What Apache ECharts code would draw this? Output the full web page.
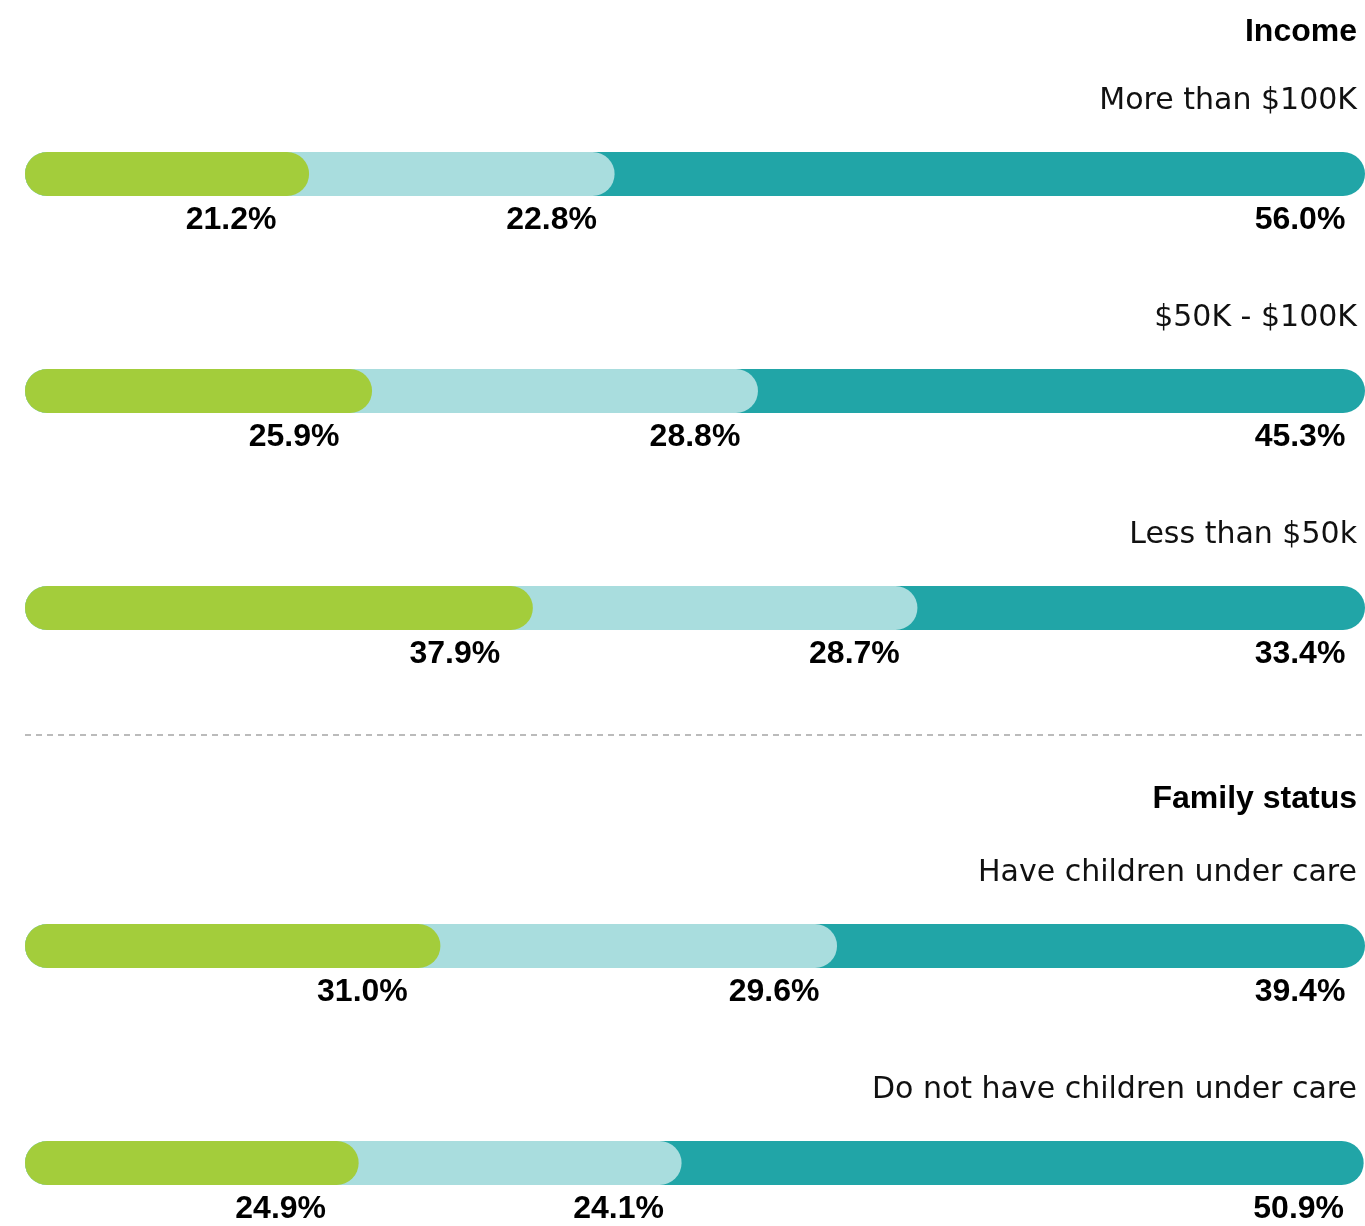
<!DOCTYPE html>
<html>
<head>
    <meta charset="utf-8"/>
    <title></title>
    <script src="https://cdn.jsdelivr.net/npm/echarts@6/dist/echarts.min.js"></script>
    <style>
        html, body {margin: 0; padding: 0; background: #fff;}
        #main {width: 1365px; height: 1226px;}
    </style>
</head>
<body>
<div id="main"></div>
<script type="text/javascript">
    /* 数据 */
    var incomeRows = ['More than $100K', '$50K - $100K', 'Less than $50k'];
    var incomeGreen = [21.2, 25.9, 37.9];
    var incomeLight = [22.8, 28.8, 28.7];
    var incomeTeal = [56.0, 45.3, 33.4];

    var familyRows = ['Have children under care', 'Do not have children under care'];
    var familyGreen = [31.0, 24.9];
    var familyLight = [29.6, 24.1];
    var familyTeal = [39.4, 50.9];

    var groupTitles = ['Income', 'Family status'];

    var colors = {green: '#a3cd3b', light: '#a9ddde', teal: '#21a5a7'};

    var chart = echarts.init(document.getElementById('main'));

    /* 每段从0画到累计值，后画的盖在前面，圆角叠出效果 */
    function makeSeries(gi, rows, green, light, teal) {
        var cumLight = green.map(function (v, i) { return +(v + light[i]).toFixed(1); });
        var cumTeal = green.map(function (v, i) { return +(v + light[i] + teal[i]).toFixed(1); });
        var parts = [
            {name: 'teal', color: colors.teal, data: cumTeal, raw: teal, dx: -65},
            {name: 'light', color: colors.light, data: cumLight, raw: light, dx: -63},
            {name: 'green', color: colors.green, data: green, raw: green, dx: -78}
        ];
        var list = parts.map(function (p) {
            return {
                name: p.name,
                type: 'bar',
                xAxisIndex: gi,
                yAxisIndex: gi,
                barWidth: 44,
                barGap: '-100%',
                silent: true,
                itemStyle: {color: p.color, borderRadius: 22},
                label: {
                    show: true,
                    position: ['100%', '100%'],
                    offset: [p.dx, 24],
                    align: 'center',
                    verticalAlign: 'middle',
                    fontFamily: 'Liberation Sans',
                    fontWeight: 'bold',
                    fontSize: 32,
                    color: '#000',
                    formatter: function (params) {
                        return p.raw[params.dataIndex].toFixed(1) + '%';
                    }
                },
                data: p.data
            };
        });
        /* 行名：透明柱子上方的标签 */
        list.push({
            name: 'rowName',
            type: 'bar',
            xAxisIndex: gi,
            yAxisIndex: gi,
            barWidth: 44,
            barGap: '-100%',
            silent: true,
            itemStyle: {color: 'rgba(0,0,0,0)'},
            label: {
                show: true,
                position: ['100%', 0],
                offset: [-8, -51],
                align: 'right',
                verticalAlign: 'middle',
                fontFamily: 'DejaVu Sans',
                fontSize: 30,
                color: '#111',
                formatter: function (params) {
                    return rows[params.dataIndex];
                }
            },
            data: rows.map(function () { return 100; })
        });
        return list;
    }

    var titleStyle = {fontFamily: 'Liberation Sans', fontWeight: 'bold', fontSize: 32, color: '#000'};

    var option = {
        animation: false,
        title: [
            {text: groupTitles[0], right: 8, top: 16, padding: 0, textStyle: titleStyle},
            {text: groupTitles[1], right: 8, top: 783, padding: 0, textStyle: titleStyle}
        ],
        grid: [
            {left: 25, right: 0, top: 65.5, height: 651, outerBoundsMode: 'none'},
            {left: 25, right: 0, top: 837.5, height: 434, outerBoundsMode: 'none'}
        ],
        xAxis: [
            {gridIndex: 0, type: 'value', min: 0, max: 100, show: false},
            {gridIndex: 1, type: 'value', min: 0, max: 100, show: false}
        ],
        yAxis: [
            {gridIndex: 0, type: 'category', data: incomeRows, inverse: true, show: false},
            {gridIndex: 1, type: 'category', data: familyRows, inverse: true, show: false}
        ],
        graphic: [{
            type: 'line',
            shape: {x1: 25, y1: 735, x2: 1365, y2: 735},
            style: {stroke: '#bbbbbb', lineWidth: 2, lineDash: [6, 5]}
        }],
        series: makeSeries(0, incomeRows, incomeGreen, incomeLight, incomeTeal)
            .concat(makeSeries(1, familyRows, familyGreen, familyLight, familyTeal))
    };

    chart.setOption(option);
</script>
</body>
</html>
